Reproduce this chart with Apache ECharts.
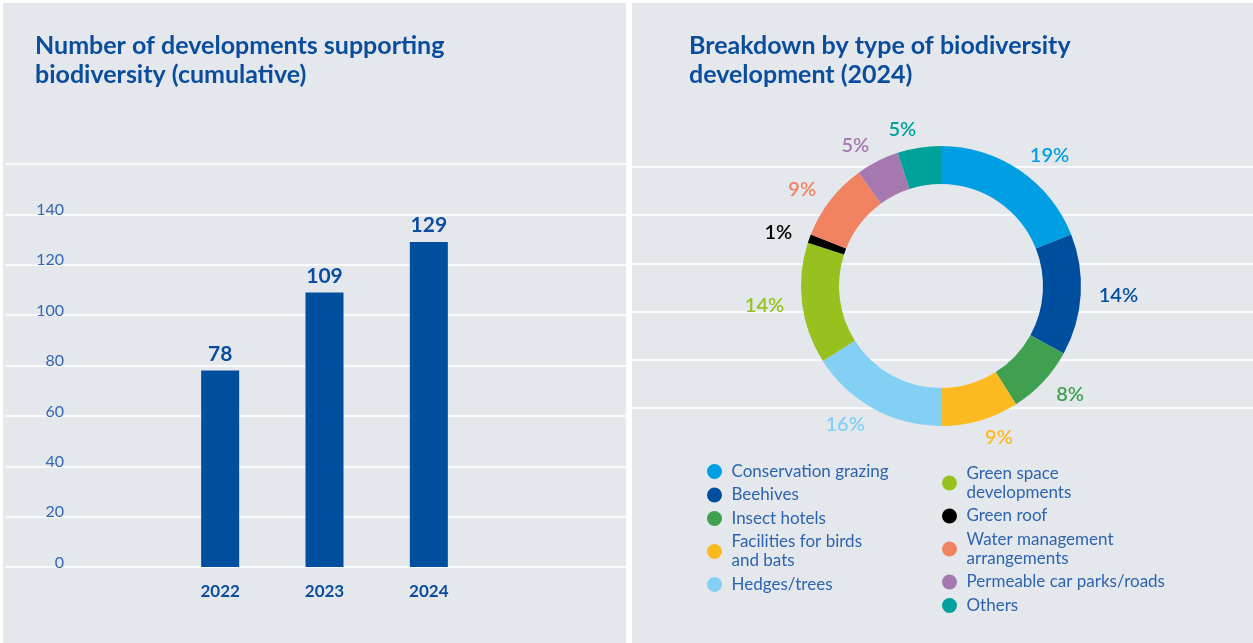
<!DOCTYPE html>
<html>
<head>
<meta charset="utf-8">
<title>Biodiversity developments</title>
<script src="https://cdn.jsdelivr.net/npm/echarts@6/dist/echarts.min.js"></script>
<style>
  html, body { margin: 0; padding: 0; background: #ffffff; }
  #chart { width: 1253px; height: 643px; }
</style>
</head>
<body>
<div id="chart"></div>
<script>
// Cumulative number of developments supporting biodiversity
const years = ['2022', '2023', '2024'];
const developments = [78, 109, 129];
const yAxisMax = 160;
const yAxisStep = 20;

// Breakdown by type of biodiversity development (2024), in percent
const types = [
  'Conservation grazing',
  'Beehives',
  'Insect hotels',
  'Facilities for birds\nand bats',
  'Hedges/trees',
  'Green space\ndevelopments',
  'Green roof',
  'Water management\narrangements',
  'Permeable car parks/roads',
  'Others'
];
const shares = [19, 14, 8, 9, 16, 14, 1, 9, 5, 5];
const typeColors = [
  '#009fe3', '#004f9f', '#3fa150', '#fbba1f', '#84cff4',
  '#96c11f', '#000000', '#f08262', '#a678b0', '#00a19a'
];

const FONT = 'Lato, "Open Sans", sans-serif';
const DARK_BLUE = '#0b4d9d';
const TEXT_BLUE = '#2d64b0';
const PANEL = '#e4e8ec';

const chart = echarts.init(document.getElementById('chart'), null, { renderer: 'canvas' });

const pieData = types.map((name, i) => ({
  name: name,
  value: shares[i],
  itemStyle: { color: typeColors[i] },
  label: { color: typeColors[i] }
}));

const legendBase = {
  orient: 'vertical', padding: 0,
  icon: 'circle', itemWidth: 24, itemHeight: 15, itemGap: 4.5,
  selectedMode: false,
  textStyle: { fontFamily: FONT, fontSize: 17, lineHeight: 19, color: TEXT_BLUE }
};

const option = {
  animation: false,
  backgroundColor: '#ffffff',
  textStyle: { fontFamily: FONT },
  graphic: [
    { type: 'rect', z: -10, shape: { x: 3, y: 3, width: 623, height: 640 }, style: { fill: PANEL } },
    { type: 'rect', z: -10, shape: { x: 632, y: 3, width: 621, height: 640 }, style: { fill: PANEL } }
  ],
  title: [
    {
      text: 'Number of developments supporting\nbiodiversity (cumulative)',
      left: 35, top: 31, padding: 0,
      textStyle: { fontFamily: FONT, fontSize: 25, fontWeight: 'bold', color: DARK_BLUE, lineHeight: 29 }
    },
    {
      text: 'Breakdown by type of biodiversity\ndevelopment (2024)',
      left: 689, top: 31, padding: 0,
      textStyle: { fontFamily: FONT, fontSize: 25, fontWeight: 'bold', color: DARK_BLUE, lineHeight: 29 }
    }
  ],
  legend: [
    Object.assign({}, legendBase, { data: types.slice(0, 5), left: 707, top: 462 }),
    Object.assign({}, legendBase, { data: types.slice(5), left: 942, top: 464 })
  ],
  grid: [
    { left: 5, top: 164, width: 621, height: 403 },
    { left: 168, top: 164, width: 313, height: 403 },
    { left: 632, top: 167, width: 621, height: 241 }
  ],
  xAxis: [
    { gridIndex: 0, type: 'value', min: 0, max: 1, show: false },
    {
      gridIndex: 1, type: 'category', data: years,
      axisLine: { show: false }, axisTick: { show: false },
      axisLabel: { margin: 16, fontFamily: FONT, fontSize: 17, fontWeight: 'bold', color: DARK_BLUE }
    },
    { gridIndex: 2, type: 'value', min: 0, max: 1, show: false }
  ],
  yAxis: [
    {
      gridIndex: 0, type: 'value', min: 0, max: yAxisMax, interval: yAxisStep,
      axisLine: { show: false }, axisTick: { show: false },
      splitLine: { show: true, lineStyle: { color: '#ffffff', width: 1.5 } },
      axisLabel: {
        margin: -59, fontFamily: FONT, fontSize: 16, fontWeight: 'normal', color: '#3366b3',
        verticalAlign: 'bottom', lineHeight: 9,
        formatter: v => (v === yAxisMax ? '' : String(v))
      }
    },
    { gridIndex: 1, type: 'value', min: 0, max: yAxisMax, interval: yAxisStep, show: false, splitLine: { show: false } },
    {
      gridIndex: 2, type: 'value', min: 0, max: 5, interval: 1,
      axisLine: { show: false }, axisTick: { show: false }, axisLabel: { show: false },
      splitLine: { show: true, lineStyle: { color: '#ffffff', width: 1.5 } }
    }
  ],
  series: [
    {
      type: 'bar', xAxisIndex: 1, yAxisIndex: 1,
      data: developments, barWidth: 38,
      itemStyle: { color: '#004f9f' },
      label: {
        show: true, position: 'top', distance: 6,
        fontFamily: FONT, fontSize: 21, fontWeight: 'bold', color: DARK_BLUE
      }
    },
    {
      type: 'pie', center: [941, 286], radius: [102, 140],
      startAngle: 90, clockwise: true,
      avoidLabelOverlap: false,
      data: pieData,
      label: {
        show: true, position: 'outside',
        formatter: '{c}%', distanceToLabelLine: 0,
        fontFamily: FONT, fontSize: 20, fontWeight: 600
      },
      labelLine: { show: false, length: 18, length2: 0 },
      emphasis: { scale: false }
    }
  ]
};

chart.setOption(option);
</script>
</body>
</html>
